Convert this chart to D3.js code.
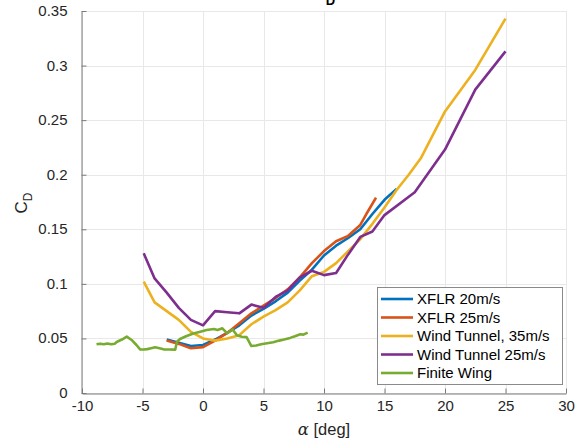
<!DOCTYPE html>
<html>
<head>
<meta charset="utf-8">
<script src="https://cdn.jsdelivr.net/npm/d3@7"></script>
<style>
  html, body { margin: 0; padding: 0; background: #fff; }
  svg { display: block; font-family: "Liberation Sans", Arial, Helvetica, sans-serif; }
</style>
</head>
<body>
<svg id="chart" width="575" height="441"></svg>
<script>
// Drag coefficient versus angle of attack
const xTicks = [-10, -5, 0, 5, 10, 15, 20, 25, 30];
const xTickLabels = ["-10", "-5", "0", "5", "10", "15", "20", "25", "30"];
const yTicks = [0, 0.05, 0.1, 0.15, 0.2, 0.25, 0.3, 0.35];
const yTickLabels = ["0", "0.05", "0.1", "0.15", "0.2", "0.25", "0.3", "0.35"];

const seriesNames = ["XFLR 20m/s", "XFLR 25m/s", "Wind Tunnel, 35m/s", "Wind Tunnel 25m/s", "Finite Wing"];
const seriesColors = ["#0072BD", "#D95319", "#EDB120", "#7E2F8E", "#77AC30"];

// [alpha (deg), CD]
const xflr20 = [
  [-3, 0.049], [-2, 0.046], [-1, 0.043], [0, 0.044], [1, 0.049], [2, 0.055],
  [3, 0.062], [4, 0.071], [5, 0.077], [6, 0.084], [7, 0.092], [8, 0.103],
  [9, 0.113], [10, 0.126], [11, 0.135], [12, 0.142], [13, 0.150], [14, 0.164],
  [15, 0.177], [16, 0.187]
];
const xflr25 = [
  [-3, 0.048], [-2, 0.045], [-1, 0.041], [0, 0.042], [1, 0.048], [2, 0.055],
  [3, 0.064], [4, 0.073], [5, 0.080], [6, 0.087], [7, 0.095], [8, 0.106],
  [9, 0.119], [10, 0.130], [11, 0.139], [12, 0.144], [13, 0.154], [13.5, 0.164],
  [14.3, 0.179]
];
const tunnel35 = [
  [-4.9, 0.102], [-4, 0.083], [-3, 0.075], [-2, 0.067], [-1, 0.056], [0, 0.050],
  [1, 0.048], [2, 0.050], [3, 0.053], [4, 0.063], [5, 0.070], [6, 0.076],
  [7, 0.083], [8, 0.094], [9, 0.107], [10, 0.111], [11, 0.119], [12, 0.130],
  [13, 0.141], [14, 0.155], [15, 0.170], [16, 0.186], [17, 0.200], [18, 0.215],
  [20, 0.258], [22.5, 0.296], [25, 0.343]
];
const tunnel25 = [
  [-4.9, 0.128], [-4, 0.105], [-3, 0.092], [-2, 0.078], [-1, 0.067], [0, 0.062],
  [1, 0.075], [2, 0.074], [3, 0.073], [4, 0.081], [5, 0.078], [6, 0.088],
  [7, 0.094], [8, 0.106], [9, 0.112], [10, 0.108], [11, 0.110], [12, 0.127],
  [13, 0.143], [14, 0.148], [15, 0.163], [17.5, 0.184], [20, 0.223],
  [22.5, 0.278], [25, 0.313]
];
const finiteWing = [
  [-8.8, 0.0446], [-8.5, 0.0452], [-8.2, 0.0447], [-7.9, 0.0454], [-7.6, 0.0446],
  [-7.3, 0.0452], [-7.1, 0.047], [-6.7, 0.049], [-6.3, 0.0516], [-5.9, 0.0486],
  [-5.5, 0.044], [-5.2, 0.0400], [-4.9, 0.0398], [-4.6, 0.0402], [-4.3, 0.0410],
  [-3.95, 0.0419], [-3.6, 0.041], [-3.26, 0.0400], [-2.8, 0.0398], [-2.3, 0.0397],
  [-2.15, 0.047], [-1.9, 0.0495], [-1.4, 0.052], [-0.8, 0.0545], [-0.3, 0.056],
  [0.3, 0.0577], [0.9, 0.0586], [1.2, 0.0578], [1.6, 0.0593], [2.0, 0.0547],
  [2.45, 0.0582], [2.8, 0.053], [3.2, 0.0515], [3.6, 0.0512], [4.0, 0.043],
  [4.4, 0.0435], [4.8, 0.0446], [5.3, 0.0455], [5.8, 0.0465], [6.3, 0.048],
  [6.7, 0.049], [7.2, 0.0505], [7.6, 0.052], [8.04, 0.0538], [8.3, 0.0535],
  [8.65, 0.0553]
];
const seriesData = [xflr20, xflr25, tunnel35, tunnel25, finiteWing];

const svg = d3.select("#chart");
const plot = { left: 82, right: 566, top: 11, bottom: 393 };

const x = d3.scaleLinear().domain([-10, 30]).range([plot.left, plot.right]);
const y = d3.scaleLinear().domain([0, 0.35]).range([plot.bottom, plot.top]);

// grid
const grid = svg.append("g").attr("stroke", "#e8e8e8").attr("stroke-width", 1);
xTicks.forEach(t => {
  grid.append("line")
    .attr("x1", Math.round(x(t)) + 0.5).attr("x2", Math.round(x(t)) + 0.5)
    .attr("y1", plot.top).attr("y2", plot.bottom);
});
yTicks.forEach(t => {
  grid.append("line")
    .attr("x1", plot.left).attr("x2", plot.right)
    .attr("y1", Math.round(y(t)) + 0.5).attr("y2", Math.round(y(t)) + 0.5);
});

// axes
const axisColor = "#7a7a7a";
const xAxis = d3.axisBottom(x).tickValues(xTicks).tickSizeInner(-5).tickSizeOuter(0).tickPadding(4)
  .tickFormat((d, i) => xTickLabels[i]);
const yAxis = d3.axisLeft(y).tickValues(yTicks).tickSizeInner(-5).tickSizeOuter(0).tickPadding(14)
  .tickFormat((d, i) => yTickLabels[i]);

const gx = svg.append("g").attr("transform", `translate(0,${plot.bottom + 0.5})`).call(xAxis);
const gy = svg.append("g").attr("transform", `translate(${plot.left - 0.5},0)`).call(yAxis);
[gx, gy].forEach(g => {
  g.select(".domain").attr("stroke", axisColor);
  g.selectAll(".tick line").attr("stroke", axisColor);
  g.selectAll(".tick text").attr("fill", "#262626").attr("font-size", 15)
    .attr("font-family", "'Liberation Sans', Arial, sans-serif");
});
gx.selectAll(".tick text").attr("dy", "0.9em");
gy.selectAll(".tick text").attr("dy", "0.3em");

// lines
const line = d3.line().x(d => x(d[0])).y(d => y(d[1]));
seriesData.forEach((data, i) => {
  svg.append("path")
    .datum(data)
    .attr("d", line)
    .attr("fill", "none")
    .attr("stroke", seriesColors[i])
    .attr("stroke-width", 2.6)
    .attr("stroke-linejoin", "round");
});

// axis labels
const xl = svg.append("text")
  .attr("x", (plot.left + plot.right) / 2)
  .attr("y", 435)
  .attr("text-anchor", "middle")
  .attr("fill", "#262626")
  .attr("font-size", 16.5);
xl.append("tspan").attr("font-family", "'DejaVu Serif', 'Liberation Serif', serif")
  .attr("font-style", "italic").text("α");
xl.append("tspan").text(" [deg]");

const yl = svg.append("text")
  .attr("transform", "translate(27,203) rotate(-90)")
  .attr("text-anchor", "middle")
  .attr("fill", "#262626")
  .attr("font-size", 17);
yl.append("tspan").text("C");
yl.append("tspan").attr("font-size", 12).attr("dy", 5).text("D");

// title, sitting at the very top edge
const title = svg.append("text")
  .attr("x", (plot.left + plot.right) / 2)
  .attr("y", 0)
  .attr("text-anchor", "middle")
  .attr("font-weight", "bold")
  .attr("fill", "#000")
  .attr("font-size", 18);
title.append("tspan").text("C");
title.append("tspan").attr("font-size", 13).attr("dy", 5).text("D");

// legend
const lg = svg.append("g");
const lgBox = { x: 377, y: 287, w: 185, h: 97 };
lg.append("rect")
  .attr("x", lgBox.x + 0.5).attr("y", lgBox.y + 0.5)
  .attr("width", lgBox.w).attr("height", lgBox.h)
  .attr("fill", "#fff").attr("stroke", "#8a8a8a").attr("stroke-width", 1);
seriesNames.forEach((name, i) => {
  const cy = lgBox.y + 12 + i * 18.5;
  lg.append("line")
    .attr("x1", 381).attr("x2", 413)
    .attr("y1", cy).attr("y2", cy)
    .attr("stroke", seriesColors[i]).attr("stroke-width", 2.6);
  lg.append("text")
    .attr("x", 417).attr("y", cy + 5.3)
    .attr("fill", "#000").attr("font-size", 15)
    .text(name);
});
</script>
</body>
</html>
